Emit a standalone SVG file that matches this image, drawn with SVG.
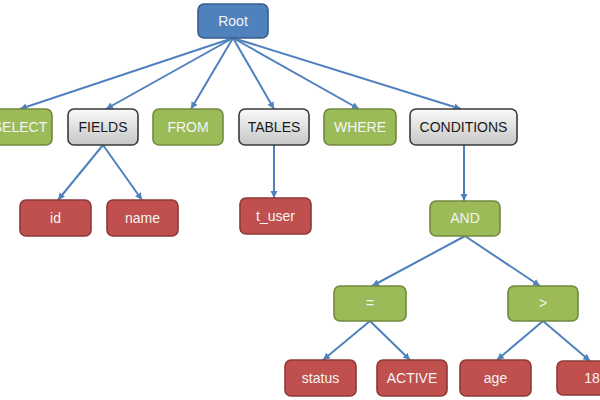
<svg xmlns="http://www.w3.org/2000/svg" width="600" height="400" viewBox="0 0 600 400">
<style>
.n rect{stroke-width:1.6}
.blue rect{fill:#4F81BD;stroke:#385D8A}
.green rect{fill:#9BBB59;stroke:#71893F}
.red rect{fill:#C0504D;stroke:#8C3836}
.gray rect{fill:url(#gg);stroke:#3a3a3a}
.n text{font-family:"Liberation Sans","DejaVu Sans",sans-serif;font-size:14px;text-anchor:middle;fill:#f4f4f4}
.gray text{fill:#1a1a1a}
.e line{stroke:#4F81BD;stroke-width:2;marker-end:url(#ah)}
</style>
<defs>
<linearGradient id="gg" x1="0" y1="0" x2="0" y2="1">
<stop offset="0" stop-color="#fafafa"/>
<stop offset="1" stop-color="#c6c6c6"/>
</linearGradient>
<marker id="ah" markerUnits="userSpaceOnUse" markerWidth="8" markerHeight="8" refX="7" refY="4" orient="auto" viewBox="0 0 8 8">
<path d="M0,0.5 L7,4 L0,7.5 Z" fill="#4F81BD"/>
</marker>
</defs>
<g class="e" id="connectors">
<line x1="233" y1="38" x2="20" y2="109"/>
<line x1="233" y1="38" x2="106" y2="109"/>
<line x1="233" y1="38" x2="191" y2="109"/>
<line x1="233" y1="38" x2="274" y2="109"/>
<line x1="233" y1="38" x2="359" y2="109"/>
<line x1="233" y1="38" x2="461" y2="109"/>
<line x1="103" y1="145" x2="58" y2="200"/>
<line x1="103" y1="145" x2="142" y2="200"/>
<line x1="274" y1="145" x2="274" y2="198"/>
<line x1="464" y1="145" x2="464" y2="201"/>
<line x1="465" y1="236" x2="372" y2="286"/>
<line x1="465" y1="236" x2="540" y2="286"/>
<line x1="370" y1="321" x2="323" y2="360"/>
<line x1="370" y1="321" x2="410" y2="360"/>
<line x1="543" y1="321" x2="497" y2="360"/>
<line x1="543" y1="321" x2="590" y2="361"/>
</g>
<g class="n blue" id="root"><rect x="198" y="4" width="70" height="34" rx="6"/><text x="233" y="26">Root</text></g>
<g class="n green" id="select"><rect x="-18" y="109" width="70" height="36" rx="6"/><text x="20" y="132">SELECT</text></g>
<g class="n gray" id="fields"><rect x="68" y="109" width="70" height="36" rx="6"/><text x="103" y="132">FIELDS</text></g>
<g class="n green" id="from"><rect x="153" y="109" width="70" height="36" rx="6"/><text x="188" y="132">FROM</text></g>
<g class="n gray" id="tables"><rect x="239" y="109" width="70" height="36" rx="6"/><text x="274" y="132">TABLES</text></g>
<g class="n green" id="where"><rect x="324" y="109" width="72" height="36" rx="6"/><text x="360" y="132">WHERE</text></g>
<g class="n gray" id="conditions"><rect x="410" y="109" width="107" height="36" rx="6"/><text x="463.5" y="132">CONDITIONS</text></g>
<g class="n red" id="id"><rect x="20" y="200" width="71" height="36" rx="6"/><text x="55.5" y="223">id</text></g>
<g class="n red" id="name"><rect x="107" y="200" width="71" height="36" rx="6"/><text x="142.5" y="223">name</text></g>
<g class="n red" id="t_user"><rect x="240" y="198" width="71" height="36" rx="6"/><text x="275.5" y="221">t_user</text></g>
<g class="n green" id="and"><rect x="430" y="201" width="70" height="35" rx="6"/><text x="465" y="223">AND</text></g>
<g class="n green" id="eq"><rect x="334" y="286" width="72" height="35" rx="6"/><text x="370" y="308">=</text></g>
<g class="n green" id="gt"><rect x="508" y="286" width="70" height="35" rx="6"/><text x="543" y="308">&gt;</text></g>
<g class="n red" id="status"><rect x="285" y="360" width="71" height="36" rx="6"/><text x="320.5" y="383">status</text></g>
<g class="n red" id="active"><rect x="377" y="360" width="70" height="36" rx="6"/><text x="412" y="383">ACTIVE</text></g>
<g class="n red" id="age"><rect x="460" y="360" width="71" height="36" rx="6"/><text x="495.5" y="383">age</text></g>
<g class="n red" id="n18"><rect x="557" y="361" width="71" height="34" rx="6"/><text x="592" y="383">18</text></g>
</svg>
